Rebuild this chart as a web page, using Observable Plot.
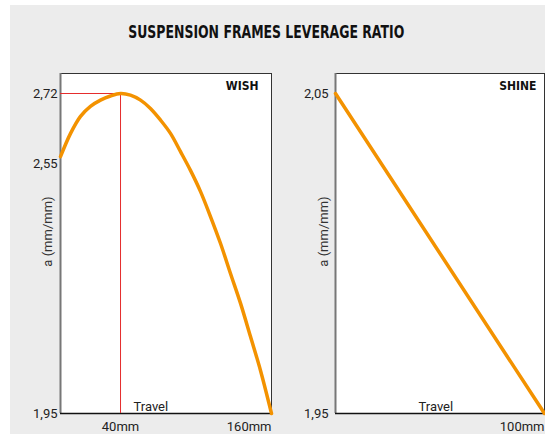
<!DOCTYPE html>
<html><head><meta charset="utf-8">
<script src="https://cdn.jsdelivr.net/npm/d3@7"></script>
<script src="https://cdn.jsdelivr.net/npm/@observablehq/plot@0.6"></script>
<style>
html,body{margin:0;padding:0;background:#fff}
body{width:545px;height:434px;overflow:hidden;position:relative;font-family:Roboto,"Liberation Sans",sans-serif}
#bg{position:absolute;left:10px;top:5px;width:535px;height:429px;background:#ececec}
#titlewrap{position:absolute;left:0;top:22px;width:532px;text-align:center}
#title{display:inline-block;font-weight:bold;font-size:17px;line-height:20px;font-family:"DejaVu Sans","Liberation Sans",sans-serif;color:#111;transform-origin:50% 50%}
.panel{position:absolute;top:0}
#wish{left:0}
#shine{left:280px}
</style></head>
<body>
<div id="bg"></div>
<div id="titlewrap"><span id="title">SUSPENSION FRAMES LEVERAGE RATIO</span></div>
<div id="wish" class="panel"></div>
<div id="shine" class="panel"></div>
<script>
// ---- data ----
const wishTravel = [-7.7, 0.3, 8.2, 16.1, 24.1, 32.0, 40, 47.9, 55.9, 63.8, 71.8, 79.7, 87.7, 95.6, 103.6, 111.5, 119.5, 127.4, 135.4, 143.3, 151.3, 160];
const wishRatio  = [2.568, 2.624, 2.665, 2.689, 2.704, 2.714, 2.72, 2.716, 2.704, 2.684, 2.656, 2.624, 2.580, 2.535, 2.484, 2.424, 2.359, 2.287, 2.215, 2.135, 2.053, 1.95];
const shineTravel = [0, 100];
const shineRatio  = [2.05, 1.95];
const wishDomainX = [-7.7, 160];
const wishDomainY = [1.95, 2.72];
const shineDomainX = [0, 100];
const shineDomainY = [1.95, 2.05];
const wishTicksY = [1.95, 2.55, 2.72];
const wishTicksX = [40, 160];
const shineTicksY = [1.95, 2.05];
const shineTicksX = [100];
const wishPeakTravel = 40;
const wishPeakRatio = 2.72;
const panelNames = ["WISH", "SHINE"];
const yLabel = "a (mm/mm)";
const xLabel = "Travel";

const ORANGE = "#f39200", RED = "#e52d2d";
const cond = "'DejaVu Sans Condensed','Liberation Sans Narrow',sans-serif";
const fmtY = d => d.toFixed(2).replace(".", ",");
const fmtX = d => d + "mm";

// fit title width to reference
const t = document.getElementById("title");
const w = t.getBoundingClientRect().width;
t.style.transform = `scaleX(${276 / w})`;

const wishData = wishTravel.map((v, i) => ({travel: v, ratio: wishRatio[i]}));
const shineData = shineTravel.map((v, i) => ({travel: v, ratio: shineRatio[i]}));
const baseStyle = {background: "transparent", fontFamily: "Roboto, 'Liberation Sans', sans-serif", fontSize: "13px", color: "#222", overflow: "visible"};

const wish = Plot.plot({
  width: 280, height: 434,
  marginLeft: 60, marginTop: 73, marginRight: 9, marginBottom: 21,
  style: baseStyle,
  x: {domain: wishDomainX},
  y: {domain: wishDomainY, range: [413, 93]},
  marks: [
    Plot.frame({fill: "white", stroke: "#333", strokeWidth: 1}),
    Plot.ruleX([wishDomainX[0]], {stroke: "#777", strokeWidth: 2}),
    Plot.ruleY([wishDomainY[0]], {stroke: "#111", strokeWidth: 1.5}),
    Plot.ruleY([wishPeakRatio], {x1: wishDomainX[0], x2: wishPeakTravel, stroke: RED, strokeWidth: 1}),
    Plot.ruleX([wishPeakTravel], {y1: wishDomainY[0], y2: wishPeakRatio, stroke: RED, strokeWidth: 1}),
    Plot.line(wishData, {x: "travel", y: "ratio", curve: "catmull-rom", stroke: ORANGE, strokeWidth: 3.5}),
    Plot.axisY(wishTicksY, {tickSize: 0, tickPadding: 3, tickFormat: fmtY, label: null, fill: "#222"}),
    Plot.axisX([wishTicksX[0]], {tickSize: 0, tickPadding: 8, tickFormat: fmtX, label: null, fill: "#222"}),
    Plot.axisX([wishTicksX[1]], {tickSize: 0, tickPadding: 8, tickFormat: fmtX, label: null, textAnchor: "end", fill: "#222"}),
    Plot.text([yLabel], {frameAnchor: "left", textAnchor: "middle", lineAnchor: "middle", rotate: -90, dx: -13, dy: -12, fill: "#333"}),
    Plot.text([xLabel], {frameAnchor: "bottom-left", dx: 73, dy: -3, fill: "#222"}),
    Plot.text([panelNames[0]], {frameAnchor: "top-right", dx: -13, dy: 8, fontWeight: "bold", fontFamily: cond, fontSize: 12, fill: "#111"})
  ]
});
document.getElementById("wish").appendChild(wish);

const shine = Plot.plot({
  width: 265, height: 434,
  marginLeft: 55, marginTop: 73, marginRight: 1, marginBottom: 21,
  style: baseStyle,
  x: {domain: shineDomainX},
  y: {domain: shineDomainY, range: [413, 93]},
  marks: [
    Plot.frame({fill: "white", stroke: "#333", strokeWidth: 1}),
    Plot.ruleX([shineDomainX[0]], {stroke: "#777", strokeWidth: 2}),
    Plot.ruleY([shineDomainY[0]], {stroke: "#111", strokeWidth: 1.5}),
    Plot.line(shineData, {x: "travel", y: "ratio", stroke: ORANGE, strokeWidth: 3.5}),
    Plot.axisY(shineTicksY, {tickSize: 0, tickPadding: 7, tickFormat: fmtY, label: null, fill: "#222"}),
    Plot.axisX(shineTicksX, {tickSize: 0, tickPadding: 8, tickFormat: fmtX, label: null, textAnchor: "end", fill: "#222"}),
    Plot.text([yLabel], {frameAnchor: "left", textAnchor: "middle", lineAnchor: "middle", rotate: -90, dx: -12, dy: -12, fill: "#333"}),
    Plot.text([xLabel], {frameAnchor: "bottom-left", dx: 83, dy: -3, fill: "#222"}),
    Plot.text([panelNames[1]], {frameAnchor: "top-right", dx: -8, dy: 8, fontWeight: "bold", fontFamily: cond, fontSize: 12, fill: "#111"})
  ]
});
document.getElementById("shine").appendChild(shine);
</script>
</body></html>
